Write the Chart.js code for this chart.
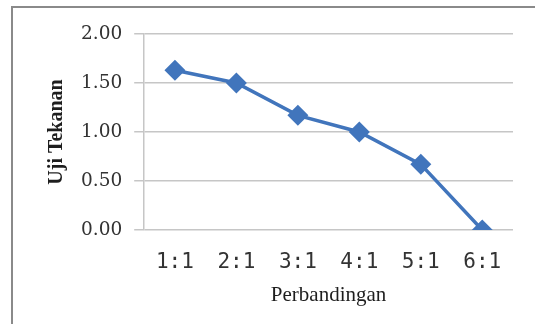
<!DOCTYPE html>
<html>
<head>
<meta charset="utf-8">
<script src="https://cdn.jsdelivr.net/npm/chart.js@4/dist/chart.umd.min.js"></script>
<style>
  html, body { margin: 0; padding: 0; background: #fff; }
  #wrap { position: relative; width: 535px; height: 324px; overflow: hidden; }
  /* frame of the chart box (only top/left edge visible) */
  #frame {
    position: absolute; left: 11px; top: 6px; width: 600px; height: 400px;
    border-top: 2px solid #8a8a8a; border-left: 2px solid #8a8a8a;
  }
  canvas { position: absolute; left: 0; top: 0; }
</style>
</head>
<body>
<div id="wrap">
  <div id="frame"></div>
  <canvas id="chart-uji" width="535" height="324"></canvas>
</div>
<script>
// Uji Tekanan per perbandingan
const categories = ['1:1', '2:1', '3:1', '4:1', '5:1', '6:1'];
const ujiTekanan = [1.63, 1.50, 1.17, 1.00, 0.67, 0.00];
const yTicks = [0, 0.5, 1, 1.5, 2];

const BLUE = '#4175bc';
const GRID = '#c6c6c6';

const ctx = document.getElementById('chart-uji');
ctx.chart = new Chart(ctx, {
  type: 'line',
  data: {
    labels: categories,
    datasets: [{
      label: 'Uji Tekanan',
      data: ujiTekanan,
      borderColor: BLUE,
      backgroundColor: BLUE,
      borderWidth: 3.5,
      tension: 0,
      pointStyle: 'rectRot',
      pointRadius: 10.5,
      pointBorderWidth: 0,
      pointBackgroundColor: BLUE
    }]
  },
  options: {
    responsive: false,
    animation: false,
    layout: { padding: { left: 45, top: 34, right: 22, bottom: 16.4 } },
    plugins: {
      legend: { display: false },
      tooltip: { enabled: false }
    },
    scales: {
      x: {
        offset: true,
        grid: { display: false, drawTicks: false },
        border: { display: false },
        ticks: {
          padding: 20,
          color: '#333',
          font: { family: "'DejaVu Sans Mono', monospace", size: 21 }
        },
        title: {
          display: true,
          text: 'Perbandingan',
          color: '#1e1e1e',
          padding: { top: -12.8, bottom: 0 },
          font: { family: "'Liberation Serif', serif", size: 21 }
        }
      },
      y: {
        min: 0,
        max: 2,
        afterBuildTicks: (axis) => { axis.ticks = yTicks.map(v => ({ value: v })); },
        grid: { color: GRID, lineWidth: 1.5, tickLength: 10 },
        border: { display: true, color: GRID, width: 1.5 },
        ticks: {
          padding: 12,
          color: '#333',
          font: { family: "'DejaVu Serif', serif", size: 18.5 },
          callback: (v) => Number(v).toFixed(2)
        },
        title: {
          display: true,
          text: 'Uji Tekanan',
          color: '#1e1e1e',
          padding: { top: 0, bottom: 0 },
          font: { family: "'Liberation Serif', serif", size: 20, weight: 'bold' }
        }
      }
    }
  }
});
</script>
</body>
</html>
